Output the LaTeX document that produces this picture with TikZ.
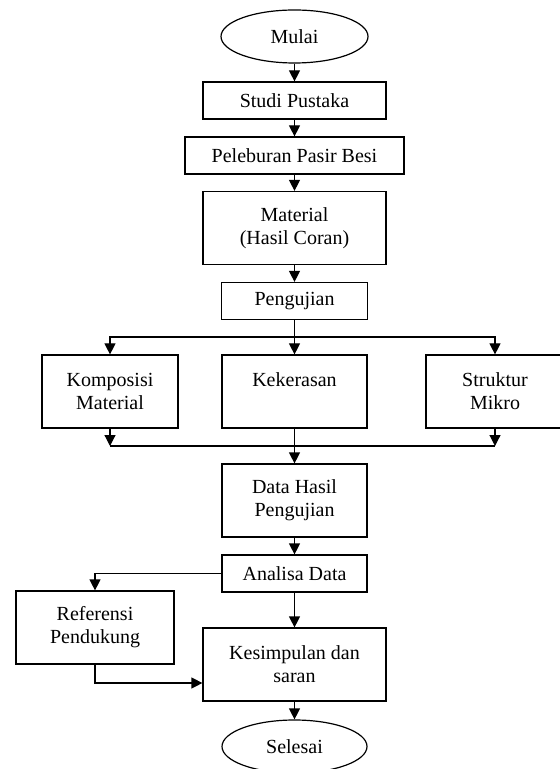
\documentclass[tikz,border=0pt]{standalone}
\usepackage{fontspec}
\setmainfont{Liberation Serif}
\usetikzlibrary{shapes.geometric,arrows.meta,positioning}

\begin{document}
\begin{tikzpicture}[
          x=0.5pt, y=-0.5pt,
          line width=0.6pt,
          >={Triangle[width=5.5pt,length=5.5pt]},
          box/.style={rectangle, draw, align=center, inner sep=0pt, minimum height=18.5pt,
                      font=\fontsize{10}{11.5}\selectfont},
          tall/.style={box, minimum height=36.5pt},
          term/.style={ellipse, draw, inner sep=0pt, minimum height=26.5pt,
                       font=\fontsize{10}{11.5}\selectfont}
        ]
        \clip (0,0) rectangle (560,769);

        % Nodes
        \node[term, minimum width=73.5pt] (Mulai) at (294.5,36.5) {Mulai};
        \node[box, minimum width=91.5pt] (Studi) at (294.5,100.5) {Studi Pustaka};
        \node[box, minimum width=109.5pt] (Lebur) at (294.5,155.5) {Peleburan Pasir Besi};
        \node[tall, minimum width=91.5pt] (Material) at (294.5,228) {Material\\(Hasil Coran)};
        \node[box, minimum width=73pt] (Uji) at (294.5,301) {Pengujian};
        \node[tall, minimum width=68pt] (Komp) at (110,391.5) {Komposisi\\Material};
        \node[tall, minimum width=72.5pt] (Keras) at (294.5,391.5) {Kekerasan\\~};
        \node[tall, minimum width=69pt] (Struk) at (495,391.5) {Struktur\\Mikro};
        \node[tall, minimum width=72.5pt] (Data) at (294.5,500.5) {Data Hasil\\Pengujian};
        \node[box, minimum width=72.5pt] (Analisa) at (294.5,573.5) {Analisa Data};
        \node[tall, minimum width=79pt] (Ref) at (95,627.5) {Referensi\\Pendukung};
        \node[tall, minimum width=91.5pt] (Simpul) at (294.5,664.5) {Kesimpulan dan\\saran};
        \node[term, minimum width=72.5pt] (Selesai) at (294.5,746.5) {Selesai};

        \coordinate (Split) at (294.5,337);
        \coordinate (Join) at (294.5,446);

        % Main line
        \draw[->] (Mulai) -- (Studi);
        \draw[->] (Studi) -- (Lebur);
        \draw[->] (Lebur) -- (Material);
        \draw[->] (Material) -- (Uji);

        % Edges to the three tests
        \draw (Uji) -- (Split);
        \draw[->] (Split) -| (Komp);
        \draw[->] (Split) -| (Struk);
        \draw[->] (Split) -- (Keras);

        % Edges back together
        \draw[->] (Komp) -- (Komp |- Join);
        \draw[->] (Struk) -- (Struk |- Join);
        \draw (Komp |- Join) -- (Struk |- Join);
        \draw[->] (Keras) -- (Data);
        \draw[->] (Data) -- (Analisa);

        % Edges from Analisa Data
        \draw[->] (Analisa) -| (Ref);
        \draw[->] (Analisa) -- (Simpul);
        \draw[->] (Ref) |- ([yshift=-9.25pt]Simpul.west);
        \draw[->] (Simpul) -- (Selesai);

      \end{tikzpicture}
\end{document}
